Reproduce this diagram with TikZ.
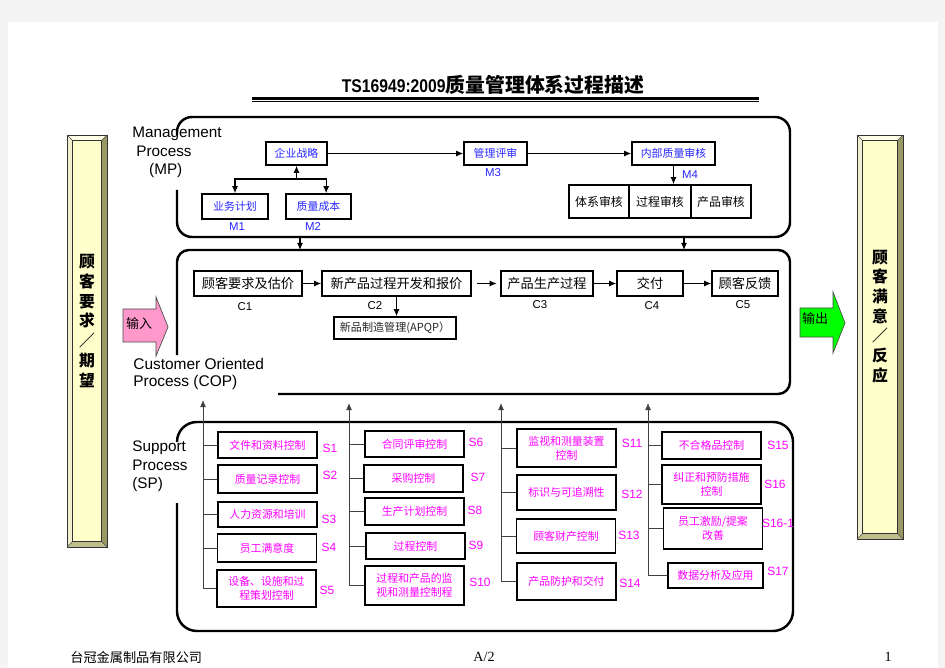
\documentclass[tikz,border=0pt]{standalone}
\usepackage{fontspec}
\setmainfont{Liberation Sans}
\newfontfamily\cjk{Noto Sans CJK SC}
\newfontfamily\ftserif{Liberation Serif}
\newfontfamily\narrowsans[FakeStretch=0.85]{Liberation Sans}
\usetikzlibrary{arrows.meta,calc}

\newcommand\fsz[2]{\fontsize{#1}{#2}\selectfont}

% bevelled side bar: outer corners (x1,y1) (x2,y2)
\newcommand\sidebar[4]{%
  \fill[barfill] (#1,#2) rectangle (#3,#4);
  \fill[barlight] (#1,#2) -- (#3,#2) -- (#3-5.5,#2+5.5) -- (#1+5.5,#2+5.5) -- cycle;
  \fill[barleft] (#1,#2) -- (#1+5.5,#2+5.5) -- (#1+5.5,#4-5.5) -- (#1,#4) -- cycle;
  \fill[bardark] (#3,#2) -- (#3,#4) -- (#3-5.5,#4-5.5) -- (#3-5.5,#2+5.5) -- cycle;
  \fill[barbot] (#1,#4) -- (#3,#4) -- (#3-5.5,#4-5.5) -- (#1+5.5,#4-5.5) -- cycle;
  \draw[line width=0.5pt, black!80] (#1,#2) rectangle (#3,#4) (#1+5.5,#2+5.5) rectangle (#3-5.5,#4-5.5);
  \draw[line width=0.3pt, black!70] (#1,#2) -- (#1+5.5,#2+5.5) (#3,#2) -- (#3-5.5,#2+5.5)
    (#1,#4) -- (#1+5.5,#4-5.5) (#3,#4) -- (#3-5.5,#4-5.5);}

\begin{document}
\begin{tikzpicture}[x=0.02cm, y=-0.02cm,
    box/.style 2 args={draw=black, line width=0.9pt, fill=white, inner sep=0pt, align=center,
        minimum width=#1*0.02cm, minimum height=#2*0.02cm},
    mpbox/.style 2 args={box={#1}{#2}, text=mpblue, font=\cjk\fsz{6.2}{8}},
    auditbox/.style 2 args={box={#1}{#2}, font=\cjk\fsz{6.8}{8}},
    copbox/.style 2 args={box={#1}{#2}, font=\cjk\fsz{7.5}{9}},
    spbox/.style 2 args={box={99}{#1}, text=spmag, font=\cjk\fsz{6.2}{8}, #2},
    bigbox/.style={line width=1.4pt},
    flow/.style={-{Latex[length=4pt,width=3.4pt]}, line width=0.6pt},
    link/.style={line width=0.5pt, black!75},
    lbl/.style={inner sep=0pt, font=\fsz{6.5}{8}},
    splbl/.style={inner sep=0pt, font=\fsz{6.8}{8}, text=spmag},
    bartext/.style={align=center, inner sep=0pt, font=\cjk\bfseries\fsz{9}{11.2}},
    sidelbl/.style={anchor=west, align=left, inner sep=0pt, font=\fsz{8.7}{10.5}}]
    \definecolor{mpblue}{RGB}{40,40,255}
    \definecolor{spmag}{RGB}{255,0,255}
    \definecolor{barfill}{RGB}{255,255,204}
    \definecolor{barlight}{RGB}{255,255,232}
    \definecolor{barleft}{RGB}{240,240,208}
    \definecolor{bardark}{RGB}{153,153,102}
    \definecolor{barbot}{RGB}{190,190,140}
    \definecolor{inpink}{RGB}{255,153,204}
    \definecolor{outgreen}{RGB}{0,255,0}
    \definecolor{pagegray}{RGB}{244,244,244}

    % page
    \fill[pagegray] (0,0) rectangle (945,668);
    \fill[white] (8,22) rectangle (938,668);
    \useasboundingbox (0,0) rectangle (945,668);

    % Title with double rule
    \node[inner sep=0pt] (title) at (493,85)
        {{\narrowsans\bfseries\fsz{10.5}{12}TS16949:2009}{\cjk\bfseries\fsz{11.3}{12}质量管理体系过程描述}};
    \draw[line width=1.6pt] (252,98.3) -- (759,98.3);
    \draw[line width=0.8pt] (252,101.6) -- (759,101.6);

    % Side bars
    \sidebar{67}{135}{107}{547}
    \node[bartext] (reqtxt) at (87,321) {顾\\客\\要\\求\\／\\期\\望};
    \sidebar{857}{135}{903}{539}
    \node[bartext] (sattxt) at (880,316.5) {顾\\客\\满\\意\\／\\反\\应};

    % Input / output block arrows
    \filldraw[fill=inpink, draw=black!70, line width=0.4pt] (123,309) -- (156,309) -- (156,297)
        -- (168,327) -- (156,356) -- (156,342) -- (123,342) -- cycle;
    \node[inner sep=0pt, font=\cjk\fsz{7.4}{9}] (intxt) at (139,324) {输入};
    \filldraw[fill=outgreen, draw=black!70, line width=0.4pt] (800,308) -- (833,308) -- (833,292)
        -- (845,323) -- (833,353) -- (833,337) -- (800,337) -- cycle;
    \node[inner sep=0pt, font=\cjk\fsz{7.4}{9}] (outtxt) at (815,319) {输出};

    % Management Process (MP)
    \draw[bigbox, rounded corners=8.5pt] (177,135) -- (177,117) -- (790,117) -- (790,237) -- (177,237) -- (177,190);
    \node[sidelbl] (mplbl) at (132,152.5) {Management\\\hspace{2.3pt}Process\\\hspace{9.6pt}(MP)};

    \node[mpbox={61}{23}] (strategy) at (296.5,153.5) {企业战略};
    \node[mpbox={63}{23}] (review) at (495.5,153.5) {管理评审};
    \node[mpbox={83}{23}] (intaudit) at (673.5,153.5) {内部质量审核};
    \node[mpbox={66}{25}] (bizplan) at (235,206.5) {业务计划};
    \node[mpbox={65}{25}] (qcost) at (318.5,206.5) {质量成本};
    \node[auditbox={60}{33}] (sysaudit) at (599,201.5) {体系审核};
    \node[auditbox={62}{33}] (procaudit) at (660,201.5) {过程审核};
    \node[auditbox={60}{33}] (prodaudit) at (721,201.5) {产品审核};

    \node[lbl, text=mpblue] (m1) at (237,227) {M1};
    \node[lbl, text=mpblue] (m2) at (313,227) {M2};
    \node[lbl, text=mpblue] (m3) at (493,173) {M3};
    \node[lbl, text=mpblue] (m4) at (690,175) {M4};

    \coordinate (mpjoin) at (296.5,179);
    \draw[flow] (mpjoin) -- (strategy.south);
    \draw[flow] (mpjoin) -| (bizplan.north);
    \draw[flow] (mpjoin) -| (qcost.60);
    \draw[flow] (strategy.east) -- (review.west);
    \draw[flow] (review.east) -- (intaudit.west);
    \draw[flow] (intaudit.south) -- (intaudit.south |- procaudit.north);

    % MP to COP
    \coordinate (mpbot1) at (300,237);
    \coordinate (coptop1) at (300,250);
    \coordinate (mpbot2) at (684,237);
    \coordinate (coptop2) at (684,250);
    \draw[flow] (mpbot1) -- (coptop1);
    \draw[flow] (mpbot2) -- (coptop2);

    % Customer Oriented Process (COP)
    \draw[bigbox, rounded corners=6.8pt] (177,355) -- (177,250) -- (790,250) -- (790,394) -- (278,394);
    \node[sidelbl, font=\fsz{8.8}{10.2}] (coplbl) at (133,374) {Customer Oriented\\Process (COP)};

    \node[copbox={108}{25}] (c1box) at (248,283.5) {顾客要求及估价};
    \node[copbox={149}{25}] (c2box) at (396.5,283.5) {新产品过程开发和报价};
    \node[copbox={92}{25}] (c3box) at (547,283.5) {产品生产过程};
    \node[copbox={66}{25}] (c4box) at (650,283.5) {交付};
    \node[copbox={66}{25}] (c5box) at (745,283.5) {顾客反馈};
    \node[box={122}{22}, font=\cjk\fsz{6.3}{8}, text=black!85] (apqp) at (395,328) {新品制造管理(APQP）};

    \node[lbl] (c1) at (245,307) {C1};
    \node[lbl] (c2) at (375,306) {C2};
    \node[lbl] (c3) at (540,305) {C3};
    \node[lbl] (c4) at (652,306) {C4};
    \node[lbl] (c5) at (743,305) {C5};

    \draw[flow] (c1box) -- (c2box);
    \draw[flow, shorten <=3pt, shorten >=2pt] (c2box) -- (c3box);
    \draw[flow] (c3box) -- (c4box);
    \draw[flow] (c4box) -- (c5box);
    \draw[flow] (c2box.south) -- (c2box.south |- apqp.north);

    % Support Process (SP)
    \draw[bigbox, rounded corners=11.3pt] (177,442) -- (177,422) -- (793,422) -- (793,631) -- (177,631) -- (177,503);
    \node[sidelbl] (splbl) at (132,466.5) {Support\\Process\\(SP)};

    \node[spbox={26}{}] (s1) at (267.5,445) {文件和资料控制};
    \node[spbox={28}{}] (s2) at (267.5,479) {质量记录控制};
    \node[spbox={25}{}] (s3) at (267.5,514.5) {人力资源和培训};
    \node[spbox={28}{}] (s4) at (267,548) {员工满意度};
    \node[spbox={37}{}] (s5) at (266.5,588.5) {设备、设施和过\\程策划控制};

    \node[spbox={26}{}] (s6) at (414.5,444) {合同评审控制};
    \node[spbox={27}{}] (s7) at (413.5,478.5) {采购控制};
    \node[spbox={27}{}] (s8) at (414.5,511.5) {生产计划控制};
    \node[spbox={26}{}] (s9) at (415.5,546) {过程控制};
    \node[spbox={39}{}] (s10) at (414.5,585.5) {过程和产品的监\\视和测量控制程};

    \node[spbox={38}{}] (s11) at (566.5,448) {监视和测量装置\\控制};
    \node[spbox={35}{}] (s12) at (566.5,492.5) {标识与可追溯性};
    \node[spbox={34}{}] (s13) at (566,536) {顾客财产控制};
    \node[spbox={37}{}] (s14) at (566.5,581.5) {产品防护和交付};

    \node[spbox={27}{}] (s15) at (711.5,445.5) {不合格品控制};
    \node[spbox={39}{}] (s16) at (711.5,484.5) {纠正和预防措施\\控制};
    \node[spbox={41}{}] (s161) at (713,528.5) {员工激励/提案\\改善};
    \node[spbox={25}{minimum width=95*0.02cm}] (s17) at (715.5,575.5) {数据分析及应用};

    \foreach \t/\x/\y in {S1/330/448, S2/330/475, S3/329/519, S4/329/547, S5/327/590,
        S6/476/442, S7/478/477, S8/475/510, S9/476/545, S10/480/582,
        S11/632/443, S12/632/494, S13/629/535, S14/630/583,
        S15/778/445, S16/775/484, S16-1/778/523, S17/778/571}
        \node[splbl] (lbl\t) at (\x,\y) {\t};

    % SP columns up to COP
    \coordinate (sptop1) at (203,400);
    \coordinate (sptop2) at (349,403);
    \coordinate (sptop3) at (501,403);
    \coordinate (sptop4) at (648,403);
    \draw[flow, link] (s5.west -| sptop1) -- (sptop1);
    \draw[flow, link] (s10.west -| sptop2) -- (sptop2);
    \draw[flow, link] (s14.west -| sptop3) -- (sptop3);
    \draw[flow, link] (s17.west -| sptop4) -- (sptop4);
    \foreach \b in {s1,s2,s3,s4,s5} \draw[link] (\b.west) -- (\b.west -| sptop1);
    \foreach \b in {s6,s7,s8,s9,s10} \draw[link] (\b.west) -- (\b.west -| sptop2);
    \foreach \b in {s11,s12,s13,s14} \draw[link] (\b.west) -- (\b.west -| sptop3);
    \foreach \b in {s15,s16,s161,s17} \draw[link] (\b.west) -- (\b.west -| sptop4);

    % Footer
    \node[anchor=west, inner sep=0pt, font=\cjk\fsz{7.5}{9}] (company) at (70,657) {台冠金属制品有限公司};
    \node[inner sep=0pt, font=\ftserif\fsz{8}{9}] (pagecode) at (484,657) {A/2};
    \node[inner sep=0pt, font=\ftserif\fsz{8}{9}] (pagenum) at (888,657) {1};
\end{tikzpicture}
\end{document}
